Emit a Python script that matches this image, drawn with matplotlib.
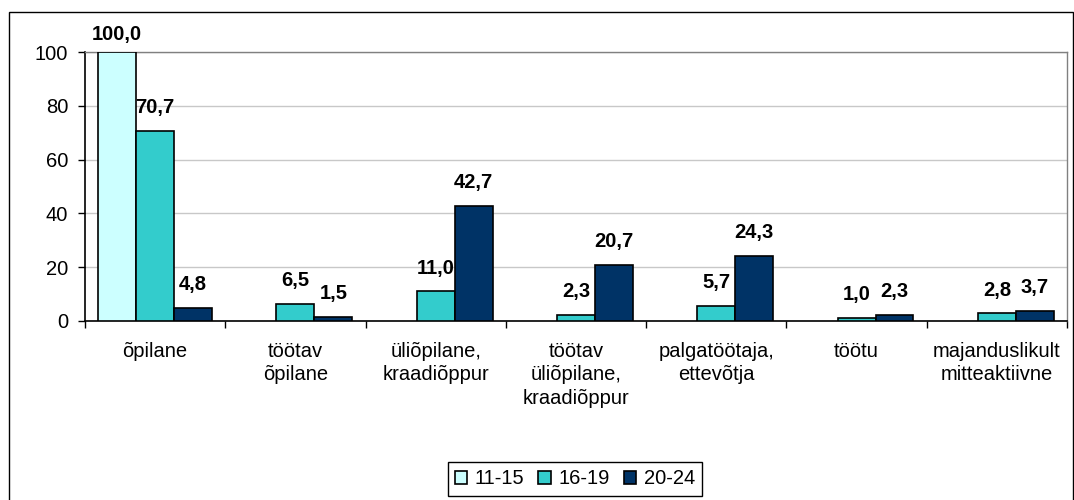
import matplotlib
matplotlib.use("Agg")
import matplotlib.pyplot as plt
import numpy as np
from matplotlib.patches import Rectangle

plt.rcParams['font.family'] = ['Liberation Sans', 'DejaVu Sans']

# data
categories = ["õpilane", "töötav\nõpilane", "üliõpilane,\nkraadiõppur",
              "töötav\nüliõpilane,\nkraadiõppur", "palgatöötaja,\nettevõtja",
              "töötu", "majanduslikult\nmitteaktiivne"]
series_names = ["11-15", "16-19", "20-24"]
vals_11_15 = [100.0, None, None, None, None, None, None]
vals_16_19 = [70.7, 6.5, 11.0, 2.3, 5.7, 1.0, 2.8]
vals_20_24 = [4.8, 1.5, 42.7, 20.7, 24.3, 2.3, 3.7]
colors = ["#CCFFFF", "#33CCCC", "#003366"]

FS = 14.5

fig = plt.figure(figsize=(10.74, 5.0), dpi=100)
ax = fig.add_axes([85/1074, 1 - 321/500, (1067-85)/1074, (321-52)/500])

# outer chart border
fig.patches.append(Rectangle((9/1074, -0.01), 1 - 9/1074 - 0.001, 0.01 + 1 - 12/500,
                             transform=fig.transFigure, fill=False,
                             edgecolor="black", lw=1.0))

x = np.arange(len(categories))
w = 0.27
for i, (vals, name, c) in enumerate(zip([vals_11_15, vals_16_19, vals_20_24], series_names, colors)):
    xs = [xi + (i - 1) * w for xi, v in zip(x, vals) if v is not None]
    hs = [v for v in vals if v is not None]
    bars = ax.bar(xs, hs, w, color=c, edgecolor="black", lw=1.2, label=name, zorder=3)
    for b, v in zip(bars, hs):
        # label at the very top is squeezed in like Excel does
        off = 6 if v >= 100 else 10
        ax.annotate(f"{v:.1f}".replace(".", ","), (b.get_x() + b.get_width()/2, b.get_height()),
                    xytext=(0, off), textcoords="offset points", ha="center", va="bottom",
                    fontsize=FS, fontweight="bold", zorder=4)

ax.set_xlim(-0.5, len(categories) - 0.5)
ax.set_ylim(0, 100)
ax.set_yticks([0, 20, 40, 60, 80, 100])
ax.tick_params(axis="y", labelsize=FS, length=5, width=1, direction="out", pad=7)
ax.set_xticks(x)
ax.set_xticklabels(categories, fontsize=FS, linespacing=1.3, va="top")
ax.tick_params(axis="x", which="major", length=0, pad=15)
ax.set_xticks(np.arange(-0.5, len(categories) + 0.5, 1), minor=True)
ax.tick_params(axis="x", which="minor", length=5, width=1, direction="out")

ax.yaxis.grid(True, color="#C8C8C8", lw=1.0, zorder=0)
ax.set_axisbelow(True)
for s in ["top", "right"]:
    ax.spines[s].set_color("#808080")
    ax.spines[s].set_linewidth(1.0)
for s in ["left", "bottom"]:
    ax.spines[s].set_color("black")
    ax.spines[s].set_linewidth(1.2)

leg = fig.legend(loc="center", bbox_to_anchor=(575/1074, 1 - 479/500), ncol=3,
                 fontsize=FS, frameon=True, fancybox=False, framealpha=1,
                 edgecolor="black", handlelength=0.6, handleheight=0.6,
                 handletextpad=0.4, columnspacing=0.7, borderpad=0.35)
leg.get_frame().set_linewidth(1.0)

fig.savefig("out.png", dpi=100)
